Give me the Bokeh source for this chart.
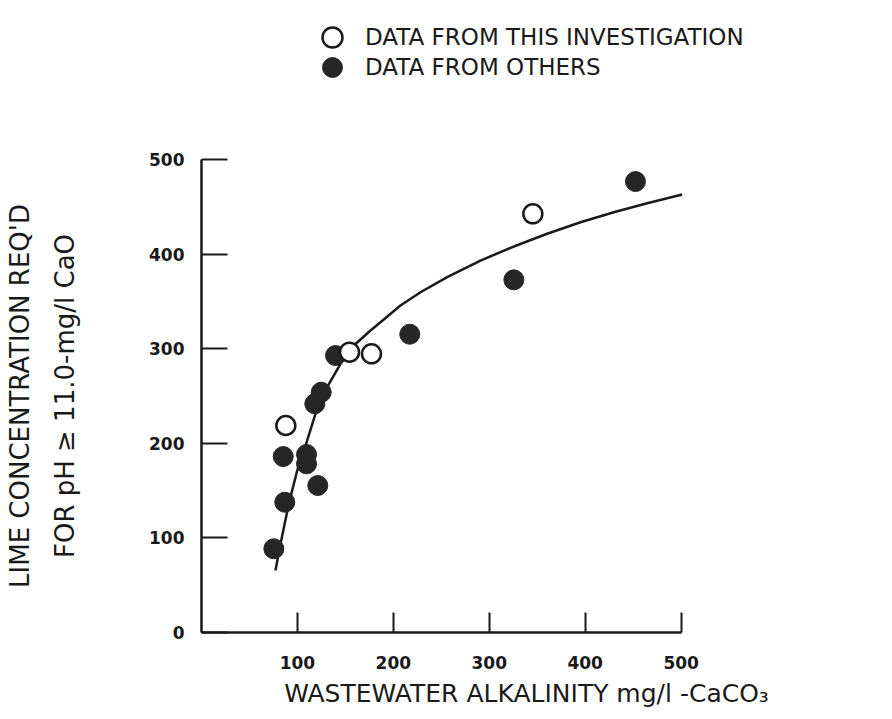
from bokeh.plotting import figure
from bokeh.layouts import column
from bokeh.models import Legend, LegendItem, FixedTicker, Range1d
from bokeh.embed import file_html
from bokeh.resources import INLINE

# ---- data ----
this_alk = [87.9, 154.3, 177.2, 345.4]
this_lime = [218.8, 296.3, 294.6, 442.6]

others_alk = [75.4, 86.8, 85.2, 109.5, 109.5, 121.2, 118.1, 124.8, 139.7, 217.1, 325.6, 452.4]
others_lime = [88.5, 137.7, 186.0, 178.3, 188.2, 155.4, 241.8, 254.0, 292.8, 315.3, 372.8, 476.7]

curve_alk = [77.1, 82.4, 91.0, 99.8, 110.2, 118.8, 131.0, 144.9, 158.8, 176.2, 186.6,
             207.4, 228.3, 256.1, 290.8, 325.6, 360.3, 395.1, 429.8, 464.6, 501.1]
curve_lime = [65.5, 93.8, 136.0, 171.2, 203.0, 231.2, 259.3, 284.0, 303.4, 319.2, 328.0,
              345.7, 359.7, 375.6, 393.2, 408.0, 421.5, 433.7, 444.3, 453.8, 463.0]

x_ticks = [100, 200, 300, 400, 500]
y_ticks = [0, 100, 200, 300, 400, 500]

legend_labels = ["DATA FROM THIS INVESTIGATION", "DATA FROM OTHERS"]
x_title = "WASTEWATER ALKALINITY mg/l -CaCO\u2083"
y_title = "LIME CONCENTRATION REQ'D\nFOR pH \u2265 11.0-mg/l CaO"

INK = "#1a1a1a"
DOT = "#262626"
FONT = "DejaVu Sans"

OPEN_STYLE = dict(marker="circle", fill_color="white", line_color=INK, line_width=2.5)
FILLED_STYLE = dict(marker="circle", fill_color=DOT, line_color=DOT, line_width=1)

# ---------------- legend strip (top) ----------------
# Same series as the chart; this strip's y range lies outside the data, so only
# the legend entries show here.
top = figure(width=892, height=100, x_range=Range1d(0, 677.6), y_range=Range1d(-200, -100),
             min_border=0, x_axis_location=None, y_axis_location=None,
             output_backend="svg", toolbar_location=None)
top.outline_line_color = None
top.xgrid.visible = False
top.ygrid.visible = False
l_open = top.scatter(this_alk, this_lime, size=20, **OPEN_STYLE)
l_filled = top.scatter(others_alk, others_lime, size=20, **FILLED_STYLE)

for label, rend, vy in ((legend_labels[0], l_open, 38), (legend_labels[1], l_filled, 8)):
    lg = Legend(
        items=[LegendItem(label=label, renderers=[rend])],
        location=(106, vy),
        glyph_width=50, glyph_height=50,
        label_standoff=8, padding=0, margin=0, spacing=0,
        border_line_color=None, background_fill_alpha=0,
        label_text_font=FONT, label_text_font_size="23px",
        label_text_color=INK, label_height=20,
    )
    top.add_layout(lg, "center")

# ---------------- main chart ----------------
p = figure(
    frame_width=650, frame_height=473,
    min_border_left=201, min_border_right=41,
    min_border_top=59, min_border_bottom=85,
    x_range=Range1d(0, 677.6), y_range=Range1d(0, 500),
    output_backend="svg", toolbar_location=None,
)
p.outline_line_color = None
p.xgrid.visible = False
p.ygrid.visible = False

for ax, ticks, tin in ((p.xaxis, x_ticks, 20), (p.yaxis, y_ticks, 26)):
    ax.ticker = FixedTicker(ticks=ticks)
    ax.bounds = (0, 500)
    ax.axis_line_width = 2.5
    ax.axis_line_color = INK
    ax.major_tick_line_width = 2
    ax.major_tick_line_color = INK
    ax.major_tick_in = tin
    ax.major_tick_out = 0
    ax.minor_tick_line_color = None
    ax.major_label_text_font = FONT
    ax.major_label_text_font_style = "bold"
    ax.major_label_text_font_size = "17px"
    ax.major_label_text_color = INK
    ax.axis_label_text_font = FONT
    ax.axis_label_text_font_style = "normal"
    ax.axis_label_text_color = INK

p.xaxis.major_label_standoff = 23
p.yaxis.major_label_standoff = 17

p.xaxis.axis_label = x_title
p.xaxis.axis_label_text_font_size = "25px"
p.xaxis.axis_label_standoff = 7

p.yaxis.axis_label = y_title
p.yaxis.axis_label_text_font_size = "26px"
p.yaxis.axis_label_text_line_height = 1.5
p.yaxis.axis_label_standoff = 66

# fitted curve
p.line(curve_alk, curve_lime, line_color=INK, line_width=2.5)
# data from others (filled), then this investigation (open) on top
p.scatter(others_alk, others_lime, size=20, **FILLED_STYLE)
p.scatter(this_alk, this_lime, size=19, **OPEN_STYLE)

layout = column(top, p, spacing=0)
open("out.html", "w").write(file_html(layout, INLINE))
